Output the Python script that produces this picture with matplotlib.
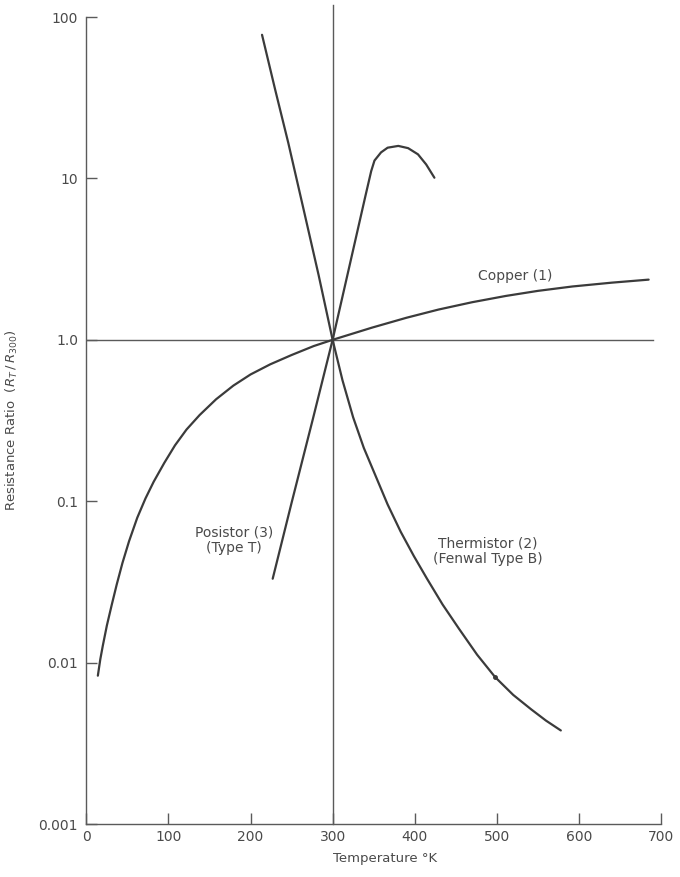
import matplotlib.pyplot as plt
import numpy as np

# readings (temperature in K, ratio R_T/R_300)
copper_t = [14, 17, 20, 25, 31, 37, 44, 52, 62, 72, 82, 95, 108, 122, 138, 158, 179, 200,
            224, 250, 277, 300, 348, 390, 429, 470, 511, 550, 592, 640, 685]
copper_r = [0.0083, 0.0105, 0.0127, 0.0170, 0.0229, 0.0305, 0.0415, 0.0565, 0.0790, 0.104,
            0.132, 0.173, 0.222, 0.278, 0.342, 0.428, 0.520, 0.610, 0.705, 0.805, 0.915, 1.0,
            1.19, 1.37, 1.54, 1.71, 1.87, 2.01, 2.14, 2.26, 2.36]

therm_t = [214, 230, 246, 265, 283, 300, 312, 325, 338, 352, 367, 383, 399, 415, 434, 454,
           476, 498, 520, 542, 560, 578]
therm_r = [77.6, 35.5, 16.6, 6.31, 2.51, 1.0, 0.562, 0.331, 0.214, 0.145, 0.0955, 0.0646,
           0.0457, 0.0331, 0.0229, 0.0162, 0.0112, 0.00813, 0.00631, 0.00513, 0.00437, 0.0038]

posistor_t = [227, 250, 276, 300, 320, 340, 347, 351, 359, 367, 380, 392, 404, 414, 424]
posistor_r = [0.0331, 0.0977, 0.324, 1.0, 2.79, 7.80, 11.1, 12.9, 14.5, 15.5, 15.9, 15.4,
              14.1, 12.2, 10.1]

x_ticks = [0, 100, 200, 300, 400, 500, 600, 700]
y_ticks = [0.001, 0.01, 0.1, 1.0, 10, 100]
y_tick_labels = ["0.001", "0.01", "0.1", "1.0", "10", "100"]

ink = "#3b3b3b"
thin = "#5a5a5a"
txt = "#4a4a4a"

plt.rcParams['font.family'] = ['DejaVu Sans']

fig = plt.figure(figsize=(6.8, 8.77), dpi=100)
ax = fig.add_axes([0.127, 0.0604, 0.845, 0.9202])
ax.set_yscale("log")
ax.set_xlim(0, 700)
ax.set_ylim(0.001, 100)

# reference lines through the 300 K / ratio 1 point
ax.plot([0, 690], [1.0, 1.0], color=thin, lw=1.0)
ax.plot([300, 300], [0.001, 118], color=thin, lw=1.0, clip_on=False)

ax.plot(copper_t, copper_r, color=ink, lw=1.6, solid_capstyle="round")
ax.plot(therm_t, therm_r, color=ink, lw=1.6, solid_capstyle="round")
ax.plot(posistor_t, posistor_r, color=ink, lw=1.6, solid_capstyle="round")
ax.plot([498], [0.00813], marker="o", ms=2.5, color=ink)

ax.text(522, 2.5, "Copper (1)", ha="center", va="center", fontsize=10, color=txt)
ax.text(180, 0.057, "Posistor (3)\n(Type T)", ha="center", va="center",
        fontsize=10, color=txt, linespacing=1.15)
ax.text(489, 0.049, "Thermistor (2)\n(Fenwal Type B)", ha="center", va="center",
        fontsize=10, color=txt, linespacing=1.15)

for s in ["top", "right"]:
    ax.spines[s].set_visible(False)
for s in ["left", "bottom"]:
    ax.spines[s].set_color(thin)
    ax.spines[s].set_linewidth(1.0)

ax.set_xticks(x_ticks)
ax.set_yticks(y_ticks)
ax.set_yticklabels(y_tick_labels)
ax.minorticks_off()
ax.tick_params(direction="in", length=8, width=1.0, color=thin, labelsize=10, labelcolor=txt)
ax.tick_params(axis="x", pad=4)
ax.tick_params(axis="y", pad=6)

ax.set_xlabel("Temperature °K", fontsize=9.5, color=txt)
ax.xaxis.set_label_coords(0.52, -0.035)
ax.set_ylabel(r"Resistance Ratio  $(R_T\,/\,R_{300})$", fontsize=9.5, color=txt)
ax.yaxis.set_label_coords(-0.115, 0.5)

fig.savefig("out.png", dpi=100)
